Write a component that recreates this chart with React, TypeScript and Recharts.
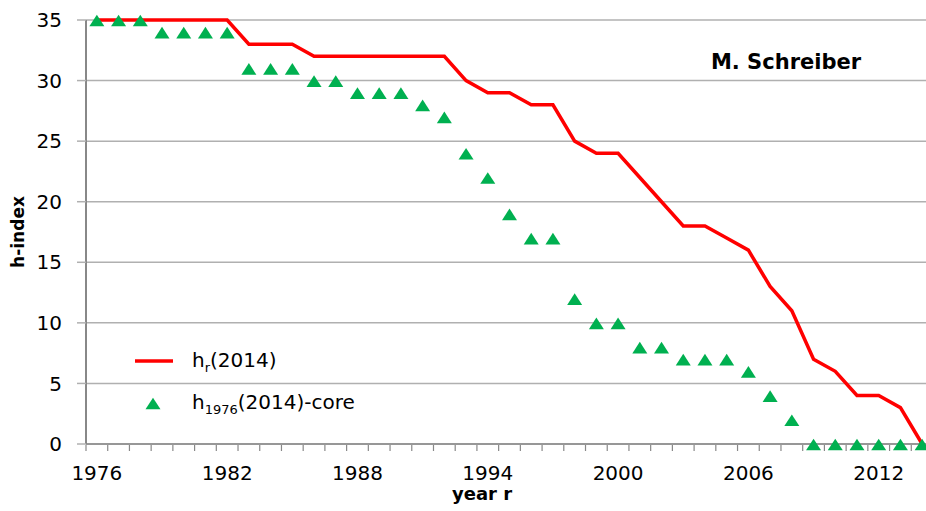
import React from "react";
import { CartesianGrid, Legend, Line, LineChart, XAxis, YAxis } from "recharts";

const years = [
  1976, 1977, 1978, 1979, 1980, 1981, 1982, 1983, 1984, 1985, 1986, 1987, 1988,
  1989, 1990, 1991, 1992, 1993, 1994, 1995, 1996, 1997, 1998, 1999, 2000, 2001,
  2002, 2003, 2004, 2005, 2006, 2007, 2008, 2009, 2010, 2011, 2012, 2013, 2014,
];
const hr2014 = [
  35, 35, 35, 35, 35, 35, 35, 33, 33, 33, 32, 32, 32, 32, 32, 32, 32, 30, 29,
  29, 28, 28, 25, 24, 24, 22, 20, 18, 18, 17, 16, 13, 11, 7, 6, 4, 4, 3, 0,
];
const core1976 = [
  35, 35, 35, 34, 34, 34, 34, 31, 31, 31, 30, 30, 29, 29, 29, 28, 27, 24, 22,
  19, 17, 17, 12, 10, 10, 8, 8, 7, 7, 7, 6, 4, 2, 0, 0, 0, 0, 0, 0,
];
const yTicks = [0, 5, 10, 15, 20, 25, 30, 35];
const labelYears = [1976, 1982, 1988, 1994, 2000, 2006, 2012];

const data = years.map((year, i) => ({ year, hr: hr2014[i], core: core1976[i] }));

// tick marks sit between categories (Excel style), labels under category centres
const boundaries = [...years.map((y) => y - 0.5), years[years.length - 1] + 0.5];
const xTicks = [...boundaries, ...labelYears].sort((a, b) => a - b);

const FONT = "'DejaVu Sans', Verdana, sans-serif";
const RED = "#ff0000";
const GREEN = "#00b050";
const AXIS = "#888888";
const GRID = "#b0b0b0";

const XTick = ({ x, y, payload }: any) => {
  const v = payload.value as number;
  if (v % 1 !== 0) {
    return <line x1={x} x2={x} y1={y + 1} y2={y + 7} stroke={AXIS} strokeWidth={1.2} />;
  }
  return (
    <text x={x} y={y + 36} textAnchor="middle" fontSize={20} fill="#000" fontFamily={FONT}>
      {v}
    </text>
  );
};

const Triangle = ({ cx, cy, size = 15 }: any) => {
  if (cx == null || cy == null) return null;
  const h = size * 0.78;
  return (
    <polygon
      points={`${cx - size / 2},${cy + h / 2 + 0.5} ${cx + size / 2},${cy + h / 2 + 0.5} ${cx},${cy - h / 2 + 0.5}`}
      fill={GREEN}
    />
  );
};

const LegendBox = () => (
  <div style={{ fontFamily: FONT, fontSize: 20, color: "#000" }}>
    <div style={{ display: "flex", alignItems: "center", height: 32 }}>
      <svg width={62} height={10}>
        <line x1={5} x2={43} y1={5} y2={5} stroke={RED} strokeWidth={3.5} />
      </svg>
      <span>
        h<sub style={{ fontSize: 13 }}>r</sub>(2014)
      </span>
    </div>
    <div style={{ display: "flex", alignItems: "center", height: 32, marginTop: 10 }}>
      <svg width={62} height={14}>
        <Triangle cx={23} cy={7} />
      </svg>
      <span>
        h<sub style={{ fontSize: 13 }}>1976</sub>(2014)-core
      </span>
    </div>
  </div>
);

export default function App() {
  return (
    <div
      style={{
        position: "absolute",
        left: 0,
        top: 0,
        width: 926,
        height: 511,
        overflow: "hidden",
        background: "#fff",
        fontFamily: FONT,
      }}
    >
      <LineChart width={933} height={511} data={data} margin={{ top: 20, right: 0, bottom: 27, left: 0 }}>
        <CartesianGrid horizontal vertical={false} stroke={GRID} strokeWidth={1.5} />
        <XAxis
          dataKey="year"
          type="number"
          domain={[1975.5, 2014.5]}
          ticks={xTicks}
          interval={0}
          tick={<XTick />}
          tickLine={false}
          tickSize={0}
          tickMargin={0}
          height={40}
          axisLine={{ stroke: AXIS, strokeWidth: 1.5 }}
          label={() => (
            <text x={482} y={500} textAnchor="middle" fontSize={18} fontWeight="bold" fontFamily={FONT} fill="#000">
              year r
            </text>
          )}
        />
        <YAxis
          type="number"
          domain={[0, 35]}
          ticks={yTicks}
          width={86}
          tickSize={9}
          tickMargin={15}
          tick={{ fontSize: 20, fill: "#000", fontFamily: FONT }}
          tickLine={{ stroke: GRID, strokeWidth: 1.5 }}
          axisLine={{ stroke: AXIS, strokeWidth: 2 }}
          label={() => (
            <text
              x={18}
              y={232}
              transform="rotate(-90 18 232)"
              textAnchor="middle"
              dominantBaseline="central"
              fontSize={17}
              fontWeight="bold"
              fontFamily={FONT}
              fill="#000"
            >
              h-index
            </text>
          )}
        />
        <Legend
          layout="vertical"
          align="center"
          verticalAlign="middle"
          content={<LegendBox />}
          wrapperStyle={{ left: 130, top: 345, width: 260 }}
        />
        <Line
          type="linear"
          dataKey="hr"
          name="hr(2014)"
          stroke={RED}
          strokeWidth={3.5}
          dot={false}
          activeDot={false}
          isAnimationActive={false}
        />
        <Line
          type="linear"
          dataKey="core"
          name="h1976(2014)-core"
          stroke="none"
          dot={<Triangle />}
          activeDot={false}
          isAnimationActive={false}
        />
      </LineChart>
      <div
        style={{
          position: "absolute",
          left: 786,
          top: 62,
          transform: "translate(-50%, -50%)",
          fontSize: 21,
          fontWeight: "bold",
          whiteSpace: "nowrap",
          color: "#000",
        }}
      >
        M. Schreiber
      </div>
    </div>
  );
}
